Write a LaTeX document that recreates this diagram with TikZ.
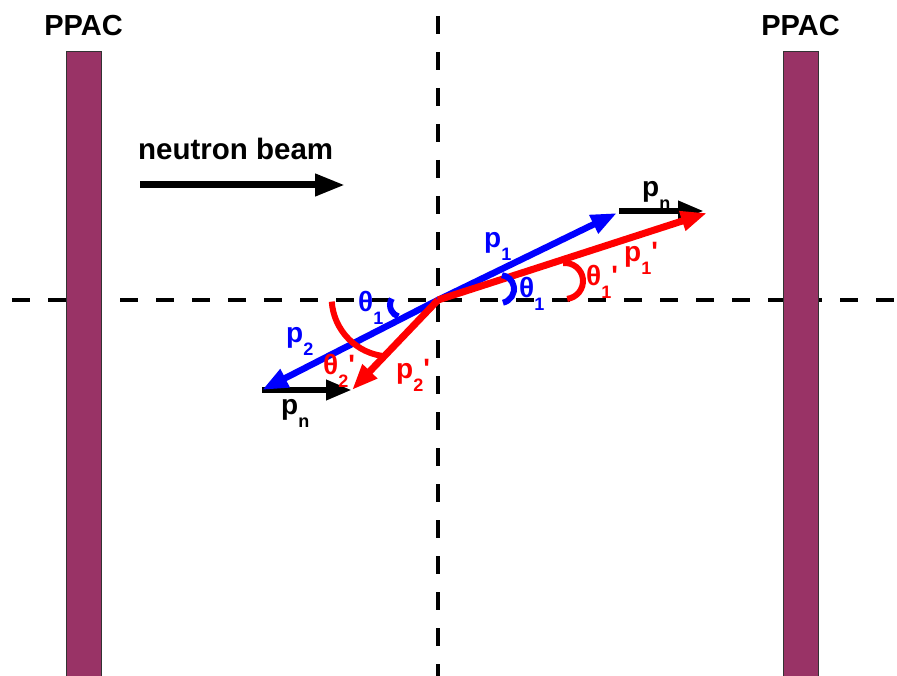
\documentclass[tikz,border=0pt]{standalone}
\usepackage{fontspec}
\setmainfont{Liberation Sans}
\usetikzlibrary{arrows.meta,positioning}
\definecolor{ppac}{RGB}{153,51,102}
\newcommand{\lo}[1]{\raisebox{-13pt}{\fontsize{18}{18}\selectfont #1}}
\newcommand{\pr}{\textquotesingle}

\begin{document}
\begin{tikzpicture}[
  x=1pt, y=-1pt,
  font=\bfseries\fontsize{28}{30}\selectfont,
  lbl/.style={anchor=base west, inner sep=0pt},
  th/.style={lbl, font=\bfseries\fontsize{28}{30}\selectfont},
  bar/.style={draw=black!80, line width=0.8pt, fill=ppac, minimum width=35pt,
    minimum height=640pt, inner sep=0pt, anchor=north},
  axis/.style={line width=4pt, dash pattern=on 18pt off 18pt},
  arrow/.style={-{Triangle[length=26pt,width=19pt]}, line width=6.5pt},
  angle/.style={line width=6pt}
]
\useasboundingbox (0,0) rectangle (897,676);

% axes through the target
\coordinate (o) at (438,300);
\coordinate (hl) at (12,300);
\coordinate (hr) at (897,300);
\coordinate (vt) at (438,16);
\coordinate (vb) at (438,676);
\draw[axis] (hl) -- (hr);
\draw[axis] (vt) -- (vb);

% detectors
\node[bar] (ppacL) at (83.5,51) {};
\node[bar] (ppacR) at (800.5,51) {};
\node[inner sep=0pt, above=15pt of ppacL, font=\bfseries\fontsize{29}{30}\selectfont] (ppacLlbl) {PPAC};
\node[inner sep=0pt, above=15pt of ppacR, font=\bfseries\fontsize{29}{30}\selectfont] (ppacRlbl) {PPAC};

% beam
\node[lbl, font=\bfseries\fontsize{29.5}{30}\selectfont] (beam) at (138,160) {neutron beam};
\coordinate (beamA) at (140,185);
\coordinate (beamB) at (345,185);
\draw[-{Triangle[length=30pt,width=21pt]}, line width=7pt] (beamA) -- (beamB);

% momenta
\coordinate (p1tip) at (617,213);
\coordinate (p2tip) at (262,390);
\coordinate (pnA) at (619,211);
\coordinate (pnB) at (704,211);
\coordinate (pnC) at (352,390);
\coordinate (q1tip) at (707,213);
\coordinate (q2tip) at (352,390);

\draw[arrow, black] (pnA) -- (pnB);
\draw[arrow, black] (p2tip) -- (pnC);
\draw[arrow, blue] (o) -- (p1tip);
\draw[arrow, blue] (o) -- (p2tip);
\draw[arrow, red, line width=7pt] (o) -- (q1tip);
\draw[arrow, red, line width=7pt] (o) -- (q2tip);

% angle marks
\draw[angle, blue] (500,289) ++(78:14) arc[start angle=78, end angle=-82, radius=14];
\draw[angle, blue] (402,305) ++(212:12) arc[start angle=212, end angle=108, radius=12];
\draw[angle, red] (565,281) ++(83:18) arc[start angle=83, end angle=-96, radius=18];
\draw[angle, red] (390.6,297.5) ++(176:59) arc[start angle=176, end angle=95, radius=59];

% labels
\node[lbl, blue] (p1) at (484,248) {p\lo{1}};
\node[th, blue] (th1r) at (519,298) {θ\lo{1}};
\node[th, blue] (th1l) at (358,312) {θ\lo{1}};
\node[lbl, blue] (p2) at (286,343) {p\lo{2}};
\node[th, red] (th2) at (323,374) {θ\lo{2}\pr};
\node[lbl, red] (q2) at (396,378) {p\lo{2}\pr};
\node[th, red] (th1) at (586,286) {θ\lo{1}\pr};
\node[lbl, red] (q1) at (624,262) {p\lo{1}\pr};
\node[lbl] (pnU) at (642,197) {p\lo{n}};
\node[lbl] (pnL) at (281,414) {p\lo{n}};

\end{tikzpicture}
\end{document}
